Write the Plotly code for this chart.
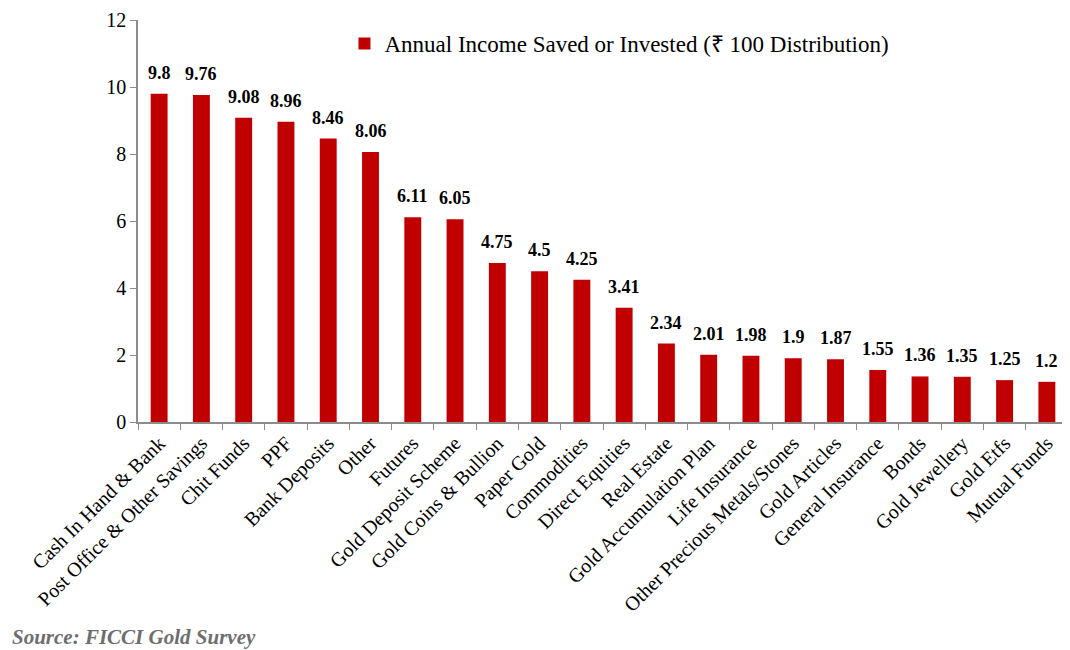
"""Annual income saved or invested: bar chart by instrument."""
import plotly.graph_objects as go

categories = [
    "Cash In Hand & Bank", "Post Office & Other Savings", "Chit Funds", "PPF",
    "Bank Deposits", "Other", "Futures", "Gold Deposit Scheme",
    "Gold Coins & Bullion", "Paper Gold", "Commodities", "Direct Equities",
    "Real Estate", "Gold Accumulation Plan", "Life Insurance",
    "Other Precious Metals/Stones", "Gold Articles", "General Insurance",
    "Bonds", "Gold Jewellery", "Gold Etfs", "Mutual Funds",
]
values = [9.8, 9.76, 9.08, 8.96, 8.46, 8.06, 6.11, 6.05, 4.75, 4.5, 4.25,
          3.41, 2.34, 2.01, 1.98, 1.9, 1.87, 1.55, 1.36, 1.35, 1.25, 1.2]
y_ticks = [0, 2, 4, 6, 8, 10, 12]

FONT = "Palatino Linotype, Book Antiqua, Palatino, Liberation Serif, serif"
BAR_RED = "#C00000"
AXIS_GREY = "#8C8C8C"

fig = go.Figure(
    go.Bar(
        x=categories,
        y=values,
        name="Annual Income Saved or Invested (₹ 100 Distribution)",
        marker=dict(color=BAR_RED, line=dict(width=0)),
    )
)

# value labels sit a little higher above the bars than plotly's outside text
value_labels = [
    dict(
        x=cat, y=val, xref="x", yref="y",
        text=f"<b>{val:g}</b>",
        showarrow=False,
        yanchor="bottom",
        yshift=9,
        font=dict(family=FONT, size=18, color="#000000"),
    )
    for cat, val in zip(categories, values)
]

source_note = dict(
    text="<b><i>Source: FICCI Gold Survey</i></b>",
    xref="paper", yref="paper",
    x=-0.138, y=-0.535,
    xanchor="left", yanchor="middle",
    showarrow=False,
    font=dict(family=FONT, size=21, color="#6E6E6E"),
)

# page body adds an 8px offset, so the figure is sized to the remaining area
fig.update_layout(
    width=1062,
    height=642,
    margin=dict(l=130, r=2, t=12, b=228),
    plot_bgcolor="white",
    paper_bgcolor="white",
    font=dict(family=FONT, size=18, color="#000000"),
    bargap=0.6,
    showlegend=True,
    legend=dict(
        x=0.222, y=0.995, xanchor="left", yanchor="top",
        font=dict(family=FONT, size=23),
        bgcolor="rgba(0,0,0,0)",
    ),
    xaxis=dict(
        type="category",
        automargin=False,
        tickangle=-45,
        tickson="boundaries",
        ticks="outside",
        ticklen=6,
        tickcolor=AXIS_GREY,
        showline=True,
        linecolor=AXIS_GREY,
        linewidth=1.5,
        showgrid=False,
        tickfont=dict(family=FONT, size=20),
    ),
    yaxis=dict(
        automargin=False,
        range=[0, 12],
        tickvals=y_ticks,
        ticks="outside",
        ticklen=6,
        tickcolor=AXIS_GREY,
        showline=True,
        linecolor=AXIS_GREY,
        linewidth=1.5,
        showgrid=False,
        zeroline=False,
        tickfont=dict(family=FONT, size=20),
    ),
    annotations=value_labels + [source_note],
)

fig.write_html("out.html")
